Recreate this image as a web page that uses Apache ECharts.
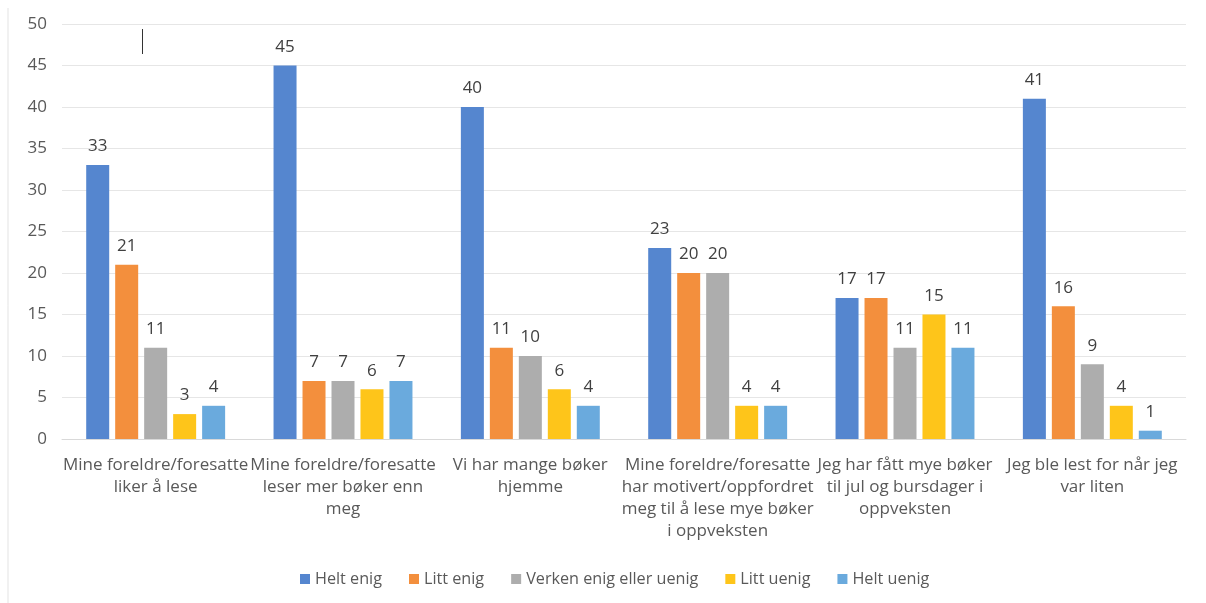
<!DOCTYPE html>
<html><head><meta charset="utf-8">
<script src="https://cdn.jsdelivr.net/npm/echarts@6/dist/echarts.min.js"></script>
<style>html,body{margin:0;padding:0;background:#fff}#c{width:1206px;height:603px}</style>
</head><body><div id="c"></div>
<script>
const categories = [
  "Mine foreldre/foresatte\nliker å lese",
  "Mine foreldre/foresatte\nleser mer bøker enn\nmeg",
  "Vi har mange bøker\nhjemme",
  "Mine foreldre/foresatte\nhar motivert/oppfordret\nmeg til å lese mye bøker\ni oppveksten",
  "Jeg har fått mye bøker\ntil jul og bursdager i\noppveksten",
  "Jeg ble lest for når jeg\nvar liten"
];
const seriesNames = ["Helt enig", "Litt enig", "Verken enig eller uenig", "Litt uenig", "Helt uenig"];
const heltEnig = [33, 45, 40, 23, 17, 41];
const littEnig = [21, 7, 11, 20, 17, 16];
const verken = [11, 7, 10, 20, 11, 9];
const littUenig = [3, 6, 6, 4, 15, 4];
const heltUenig = [4, 7, 4, 4, 11, 1];
const colors = ["#5586CF", "#F38F3D", "#ADADAD", "#FEC51A", "#6AAADD"];

const values = [heltEnig, littEnig, verken, littUenig, heltUenig];
const font = "'Open Sans', sans-serif";
const chart = echarts.init(document.getElementById('c'));
chart.setOption({
  animation: false,
  color: colors,
  textStyle: { fontFamily: font },
  grid: { left: 62, right: 20, top: 24, bottom: 164 },
  legend: {
    bottom: 11, left: 295, itemWidth: 10, itemHeight: 10, itemGap: 27,
    icon: 'rect',
    textStyle: { fontSize: 16.2, color: '#595959', fontFamily: font },
    data: seriesNames
  },
  xAxis: {
    type: 'category', data: categories,
    axisLine: { lineStyle: { color: '#D9D9D9', width: 1 } },
    axisTick: { show: false },
    axisLabel: { interval: 0, fontSize: 17, color: '#595959', lineHeight: 22, margin: 15, fontFamily: font }
  },
  yAxis: {
    type: 'value', min: 0, max: 50, interval: 5,
    axisLine: { show: false }, axisTick: { show: false },
    splitLine: { lineStyle: { color: '#E6E6E6', width: 1 } },
    axisLabel: { fontSize: 17, color: '#595959', margin: 15, fontFamily: font }
  },
  series: seriesNames.map((n, i) => ({
    name: n, type: 'bar', data: values[i], barWidth: 23, barGap: '26%',
    label: { show: true, position: 'top', distance: 10, fontSize: 17, color: '#404040', fontFamily: font }
  })),
  graphic: [
    { type: 'line', shape: { x1: 8, y1: 8, x2: 8, y2: 603 }, style: { stroke: '#E3E3E3', lineWidth: 1 } },
    { type: 'line', shape: { x1: 142.5, y1: 29, x2: 142.5, y2: 54 }, style: { stroke: '#333', lineWidth: 1 } }
  ]
});
</script></body></html>
